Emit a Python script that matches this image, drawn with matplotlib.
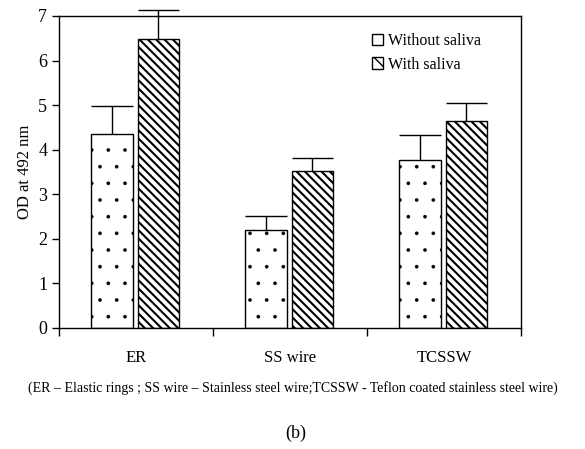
import numpy as np
import matplotlib.pyplot as plt
from matplotlib.patches import Patch

plt.rcParams['font.family'] = ['Liberation Serif', 'DejaVu Serif']

categories = ['ER', 'SS wire', 'TCSSW']
without_saliva = [4.35, 2.2, 3.77]
without_err = [0.62, 0.32, 0.55]
with_saliva = [6.48, 3.52, 4.65]
with_err = [0.65, 0.30, 0.40]

x = np.arange(len(categories))
w = 0.27
pos_wo = x - 0.155
pos_w = x + 0.145

fig = plt.figure(figsize=(5.85, 4.49), dpi=100)
ax = fig.add_axes([0.1009, 0.2695, 0.7897, 0.6949])

with plt.rc_context({'hatch.linewidth': 0.2}):
    ax.bar(pos_wo, without_saliva, w, color='white', edgecolor='black',
           hatch='.', linewidth=1.0)
with plt.rc_context({'hatch.linewidth': 1.5}):
    ax.bar(pos_w, with_saliva, w, color='white', edgecolor='black',
           hatch='\\\\\\\\', linewidth=1.0)

# upper error bars only
for pos, vals, errs in [(pos_wo, without_saliva, without_err), (pos_w, with_saliva, with_err)]:
    tops = np.array(vals) + np.array(errs)
    ax.vlines(pos, vals, tops, color='black', lw=1.0, clip_on=False)
    ax.hlines(tops, pos - w / 2, pos + w / 2, color='black', lw=1.0, clip_on=False)

ax.set_xlim(-0.5, 2.5)
ax.set_ylim(0, 7)
ax.set_xticks([-0.5, 0.5, 1.5, 2.5])
ax.set_xticklabels([])
ax.set_xticks(x, minor=True)
ax.set_xticklabels(categories, minor=True, fontsize=12)
ax.tick_params(axis='x', which='major', direction='out', length=6, width=1)
ax.tick_params(axis='x', which='minor', length=0, pad=16)
ax.tick_params(axis='y', direction='out', length=5, width=1, labelsize=13)
for s in ax.spines.values():
    s.set_linewidth(1.0)

ax.set_ylabel('OD at 492 nm', fontsize=12)

handles = [Patch(facecolor='white', edgecolor='black', label='Without saliva'),
           Patch(facecolor='white', edgecolor='black', hatch='\\\\', label='With saliva')]
ax.legend(handles=handles, loc='upper right', bbox_to_anchor=(0.945, 0.99),
          frameon=False, fontsize=11.5, handlelength=0.7, handleheight=0.7,
          handletextpad=0.3, labelspacing=0.45)

fig.text(0.5, 0.135, '(ER \u2013 Elastic rings ; SS wire \u2013 Stainless steel wire;TCSSW - Teflon coated stainless steel wire)',
         ha='center', va='center', fontsize=10)
fig.text(0.505, 0.035, '(b)', ha='center', va='center', fontsize=13)

fig.savefig('out.png', dpi=100)
